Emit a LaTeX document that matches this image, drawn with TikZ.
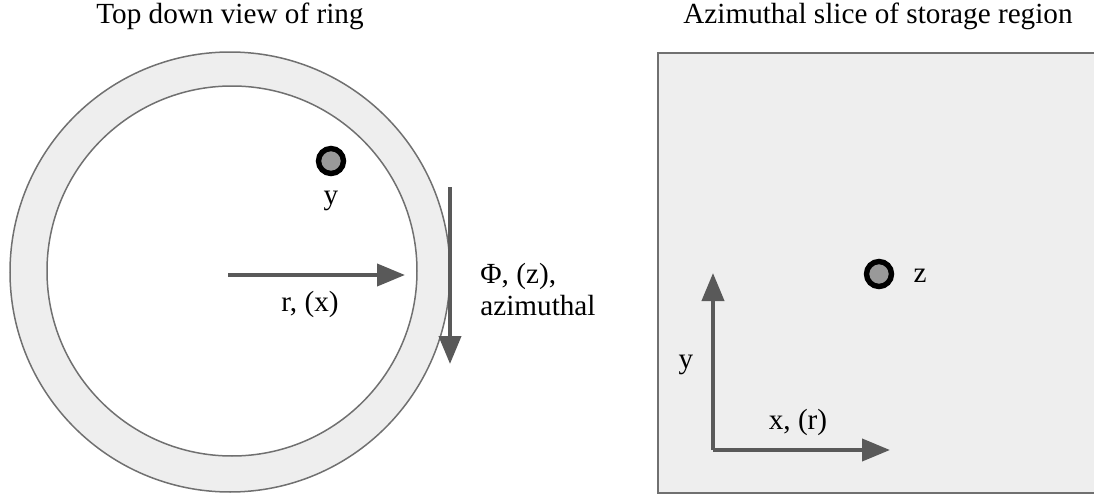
\documentclass[tikz,border=0pt]{standalone}
\usepackage{fontspec}
\setmainfont{Liberation Serif}
\usetikzlibrary{arrows.meta}
\definecolor{panelgray}{HTML}{EEEEEE}
\definecolor{edgegray}{HTML}{707070}
\definecolor{arrowgray}{HTML}{595959}
\definecolor{dotgray}{HTML}{999999}
\tikzset{
  label text/.style={font=\fontsize{14.6}{16}\selectfont, inner sep=0pt},
  axis arrow/.style={arrowgray, line width=2pt, -{Triangle[length=14pt,width=11pt]}},
  marker dot/.style={circle, draw=black, fill=dotgray, line width=2.7pt, minimum size=12.5pt, inner sep=0pt}
}
\begin{document}
\begin{tikzpicture}[x=0.5pt,y=-0.5pt]
  \useasboundingbox (0,0) rectangle (1094,498);
  % titles
  \node[label text] (ringtitle) at (230,16) {Top down view of ring};
  \node[label text] (slicetitle) at (878,16) {Azimuthal slice of storage region};
  % ring
  \fill[panelgray, even odd rule] (230,272) circle[radius=220] (232,271) circle[radius=185];
  \draw[edgegray, line width=0.75pt] (230,272) circle[radius=220];
  \draw[edgegray, line width=0.75pt] (232,271) circle[radius=185];
  \node[marker dot] (ydot) at (331,161) {};
  \node[label text] (ylabel) at (331,201) {y};
  \coordinate (rstart) at (228,275);
  \coordinate (rend) at (405,275);
  \draw[axis arrow] (rstart) -- (rend);
  \node[label text] (rlabel) at (310,304) {r, (x)};
  \coordinate (phistart) at (450,187);
  \coordinate (phiend) at (450,364);
  \draw[axis arrow] (phistart) -- (phiend);
  \node[label text, anchor=west, align=left] (philabel) at (480,290) {Φ, (z),\\azimuthal};
  % storage region slice
  \begin{scope}
    \clip (0,0) rectangle (1094,498);
    \draw[edgegray, line width=0.9pt, fill=panelgray] (658,53) rectangle (1110,493);
  \end{scope}
  \node[marker dot] (zdot) at (879,274) {};
  \node[label text] (zlabel) at (920,276) {z};
  \coordinate (origin) at (713,450);
  \coordinate (yend) at (713,273);
  \coordinate (xend) at (890,450);
  \draw[axis arrow] (origin) -- (yend);
  \draw[axis arrow] (origin) -- (xend);
  \node[label text] (yaxislabel) at (686,365) {y};
  \node[label text] (xaxislabel) at (798,422) {x, (r)};
\end{tikzpicture}
\end{document}
